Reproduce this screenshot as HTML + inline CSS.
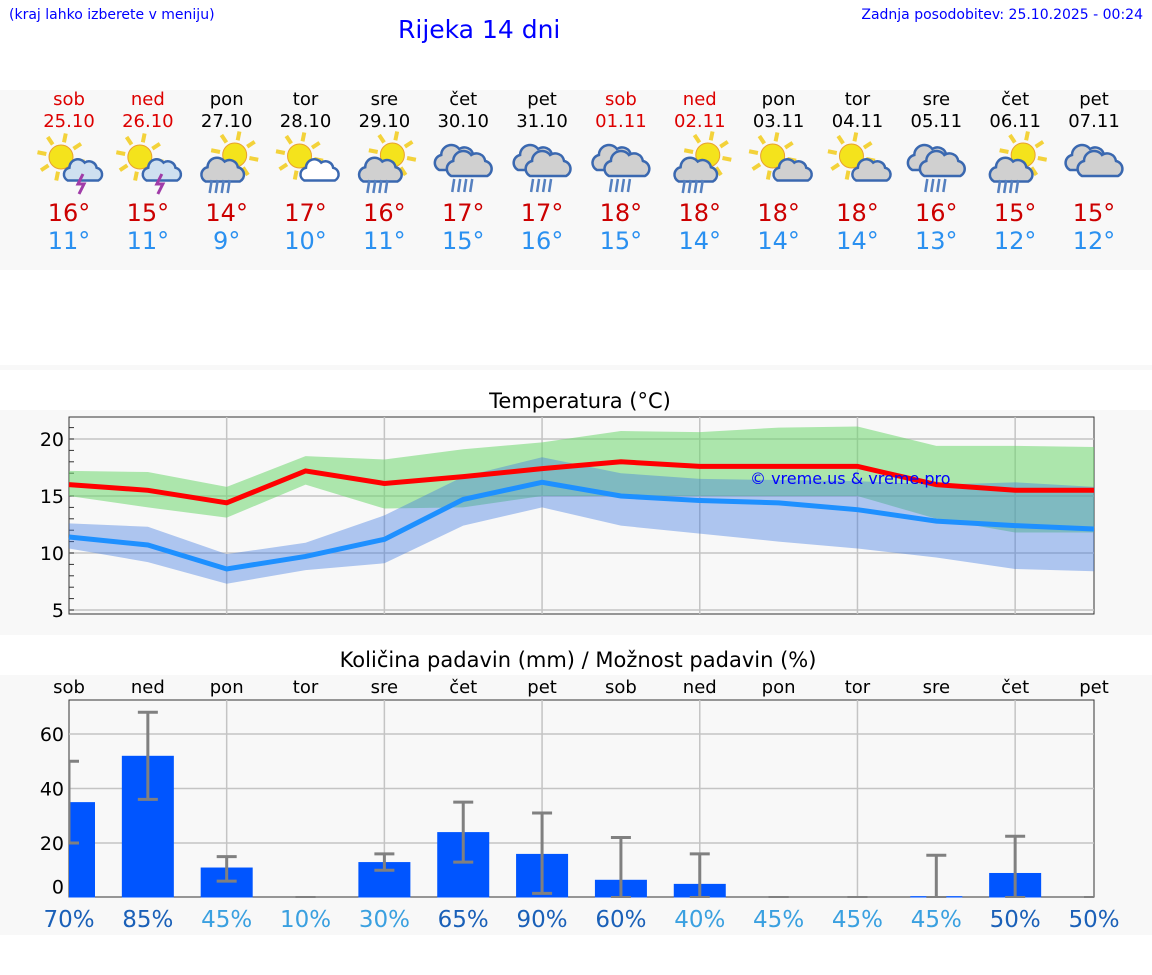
<!DOCTYPE html>
<html><head><meta charset="utf-8"><style>
body{margin:0;width:1152px;height:975px;background:#fff;font-family:"DejaVu Sans","Liberation Sans",sans-serif;position:relative;overflow:hidden}
.abs{position:absolute}
</style></head><body>
<div class="abs" style="left:9px;top:7px;font-size:14px;color:#00f">(kraj lahko izberete v meniju)</div>
<div class="abs" style="left:398px;top:15px;font-size:25px;color:#00f">Rijeka 14 dni</div>
<div class="abs" style="right:9px;top:7px;font-size:14px;color:#00f">Zadnja posodobitev: 25.10.2025 - 00:24</div>
<div class="abs" style="left:0;top:90px;width:1152px;height:180px;background:#f8f8f8"></div>
<div class="abs" style="left:0;top:365px;width:1152px;height:5px;background:#f8f8f8"></div>
<div class="abs" style="left:0;top:410px;width:1152px;height:225px;background:#f8f8f8"></div>
<div class="abs" style="left:0;top:675px;width:1152px;height:260px;background:#f8f8f8"></div>
<div id="days"></div>
<svg class="abs" style="left:0;top:0" width="1152" height="975" id="ch"></svg>
<script>
const dayNames=["sob","ned","pon","tor","sre","čet","pet","sob","ned","pon","tor","sre","čet","pet"];
const dates=["25.10","26.10","27.10","28.10","29.10","30.10","31.10","01.11","02.11","03.11","04.11","05.11","06.11","07.11"];
const weekend=[1,1,0,0,0,0,0,1,1,0,0,0,0,0];
const icons=["storm","storm","sunrain","suncloud","sunrain","rain","rain","rain","sunrain","suncloud","suncloud","rain","sunrain","cloud"];
const maxT=[16,15,14,17,16,17,17,18,18,18,18,16,15,15];
const minT=[11,11,9,10,11,15,16,15,14,14,14,13,12,12];
const maxLine=[16,15.5,14.4,17.2,16.1,16.7,17.4,18.0,17.6,17.6,17.6,16.0,15.5,15.5];
const maxHi=[17.2,17.1,15.8,18.5,18.2,19.1,19.7,20.7,20.6,21.0,21.1,19.4,19.4,19.3];
const maxLo=[15.0,14.0,13.1,16.0,13.9,14.0,15.0,15.0,15.0,15.0,15.0,13.0,11.8,11.8];
const minLine=[11.4,10.7,8.6,9.7,11.2,14.7,16.2,15.0,14.6,14.4,13.8,12.8,12.4,12.1];
const minHi=[12.6,12.3,9.9,10.9,13.3,16.7,18.4,17.0,16.5,16.4,16.3,16.0,16.2,15.8];
const minLo=[10.4,9.2,7.3,8.5,9.1,12.4,14.0,12.4,11.7,11.0,10.4,9.6,8.6,8.4];
const tempTicks=[5,10,15,20];
const precip=[35,52,11,0,13,24,16,6.5,5,0,0,0.5,9,0];
const errLo=[20,36,6,0,10,13,1.5,0,0,0,0,0,0,0];
const errHi=[50,68,15,0,16,35,31,22,16,0,0,15.5,22.5,0];
const chance=[70,85,45,10,30,65,90,60,40,45,45,45,50,50];
const precipTicks=[0,20,40,60];
const X0=69,DX=(1094-69)/13;
const xd=i=>X0+i*DX;
const ty=v=>439+(20-v)*11.4;
const py=v=>897.5-v*2.725;
const NS="http://www.w3.org/2000/svg";
const svg=document.getElementById('ch');
function el(t,a,p){const e=document.createElementNS(NS,t);for(const k in a)e.setAttribute(k,a[k]);(p||svg).appendChild(e);return e;}
function sun(g,cx,cy,r){for(let k=0;k<8;k++){const a=k*Math.PI/4+0.2;el('line',{x1:cx+Math.cos(a)*(r+3),y1:cy+Math.sin(a)*(r+3),x2:cx+Math.cos(a)*(r+12),y2:cy+Math.sin(a)*(r+12),stroke:'#f3d23a','stroke-width':4},g);}el('circle',{cx,cy,r,fill:'#f4e31c',stroke:'#e8a030','stroke-width':1},g);}
function cloud(g,cx,cy,s,fill){const p=`M${cx-18*s},${cy+10*s} a${8*s},${8*s} 0 0 1 ${2*s},${-15*s} a${10*s},${10*s} 0 0 1 ${18*s},${-6*s} a${9*s},${9*s} 0 0 1 ${14*s},${6*s} a${8*s},${8*s} 0 0 1 ${2*s},${15*s} z`;el('path',{d:p,fill,stroke:'#3a68b0','stroke-width':2.5},g);}
function rain(g,cx,cy){for(let k=0;k<4;k++)el('line',{x1:cx-9+k*6,y1:cy,x2:cx-11+k*6,y2:cy+13,stroke:'#5580c0','stroke-width':2.5},g);}
const days=document.getElementById('days');
for(let i=0;i<14;i++){
 const x=xd(i),c=weekend[i]?'#d00':'#000';
 const d=document.createElement('div');
 
 
 d.style.cssText=`position:absolute;left:${x-40}px;top:89px;width:80px;text-align:center`;
 d.innerHTML=`<div style="font-size:18px;color:${c};line-height:22px">${dayNames[i]}</div><div style="font-size:18px;color:${c};line-height:22px">${dates[i]}</div><div style="height:66px"></div><div style="font-size:24px;color:#c00;line-height:28px">${maxT[i]}°</div><div style="font-size:24px;color:#2a90f0;line-height:28px">${minT[i]}°</div>`;
 days.appendChild(d);
 const g=el('g',{});
 
 
 const t=icons[i],cy=160;
 if(t==='storm'){sun(g,x-8,cy-3,12);cloud(g,x+14,cy+12,0.85,'#cfe0f0');el('path',{d:`M${x+14},${cy+14} l-5,10 h6 l-5,10`,stroke:'#a03ca8','stroke-width':3,fill:'none'},g);}
 else if(t==='sunrain'){sun(g,x+8,cy-5,12);cloud(g,x-4,cy+12,0.95,'#d0d0d0');rain(g,x-6,cy+20);}
 else if(t==='suncloud'){sun(g,x-6,cy-4,12);cloud(g,x+14,cy+12,0.85,i===3?'#fff':'#d0d0d0');}
 else if(t==='rain'){cloud(g,x-6,cy,1.0,'#d0d0d0');cloud(g,x+6,cy+6,1.0,'#d0d0d0');rain(g,x,cy+19);}
 else {cloud(g,x-6,cy,1.0,'#d0d0d0');cloud(g,x+6,cy+6,1.0,'#d0d0d0');}
}
// temperature chart
el('text',{x:580,y:408,'font-size':21,'text-anchor':'middle',fill:'#000'}).textContent='Temperatura (°C)';
el('rect',{x:69,y:417,width:1025,height:197,fill:'#f8f8f8',stroke:'#333','stroke-width':1});
for(let i=2;i<14;i+=2)el('line',{x1:xd(i),y1:417,x2:xd(i),y2:614,stroke:'#c4c4c4','stroke-width':1.5});
tempTicks.forEach(v=>{el('line',{x1:69,y1:ty(v),x2:1094,y2:ty(v),stroke:'#c4c4c4','stroke-width':1.5});const t=el('text',{x:64,y:ty(v)+7,'font-size':19,'text-anchor':'end'});t.textContent=v;});
for(let v=5;v<=21;v++)el('line',{x1:69,y1:ty(v),x2:74,y2:ty(v),stroke:'#333'});
function band(hi,lo,fill,name){let d='M'+hi.map((v,i)=>xd(i)+','+ty(v)).join(' L')+' L'+lo.map((v,i)=>xd(i)+','+ty(v)).reverse().join(' L')+'Z';const p=el('path',{d,fill});}
band(maxHi,maxLo,'rgba(110,215,110,0.55)','max-temp-band');
band(minHi,minLo,'rgba(60,120,225,0.4)','min-temp-band');
function line(a,c,name){const p=el('polyline',{points:a.map((v,i)=>xd(i)+','+ty(v)).join(' '),fill:'none',stroke:c,'stroke-width':5});}
line(minLine,'#1e90ff','min-temp-line');
line(maxLine,'#f00','max-temp-line');
el('text',{x:750,y:484,'font-size':16,fill:'#00f'}).textContent='© vreme.us & vreme.pro';
// precip chart
el('text',{x:578,y:667,'font-size':21,'text-anchor':'middle'}).textContent='Količina padavin (mm) / Možnost padavin (%)';
el('rect',{x:69,y:700,width:1025,height:197,fill:'#f8f8f8',stroke:'#333','stroke-width':1});
for(let i=2;i<14;i+=2)el('line',{x1:xd(i),y1:700,x2:xd(i),y2:897,stroke:'#c4c4c4','stroke-width':1.5});
precipTicks.forEach(v=>{if(v>0)el('line',{x1:69,y1:py(v),x2:1094,y2:py(v),stroke:'#c4c4c4','stroke-width':1.5});const t=el('text',{x:64,y:py(v)+(v?7:-4),'font-size':19,'text-anchor':'end'});t.textContent=v;});
const cl=el('clipPath',{id:'pc'});el('rect',{x:69,y:700,width:1025,height:198},cl);
const pg=el('g',{'clip-path':'url(#pc)'});
for(let i=0;i<14;i++){
 const x=xd(i);
 const t=el('text',{x,y:693,'font-size':18,'text-anchor':'middle'});t.textContent=dayNames[i];
 const b=el('rect',{x:x-26,y:py(precip[i]),width:52,height:py(0)-py(precip[i]),fill:'#0055ff'},pg);
 
 
 const e=el('g',{stroke:'#808080','stroke-width':3},pg);
 
 
 el('line',{x1:x,y1:py(errLo[i]),x2:x,y2:py(errHi[i])},e);
 el('line',{x1:x-10,y1:py(errLo[i]),x2:x+10,y2:py(errLo[i])},e);
 el('line',{x1:x-10,y1:py(errHi[i]),x2:x+10,y2:py(errHi[i])},e);
 const pc=el('text',{x,y:927,'font-size':23,'text-anchor':'middle',fill:chance[i]>=50?'#1a60b8':'#3aa0e0'});
 
 
 pc.textContent=chance[i]+'%';
}
</script>
</body></html>
